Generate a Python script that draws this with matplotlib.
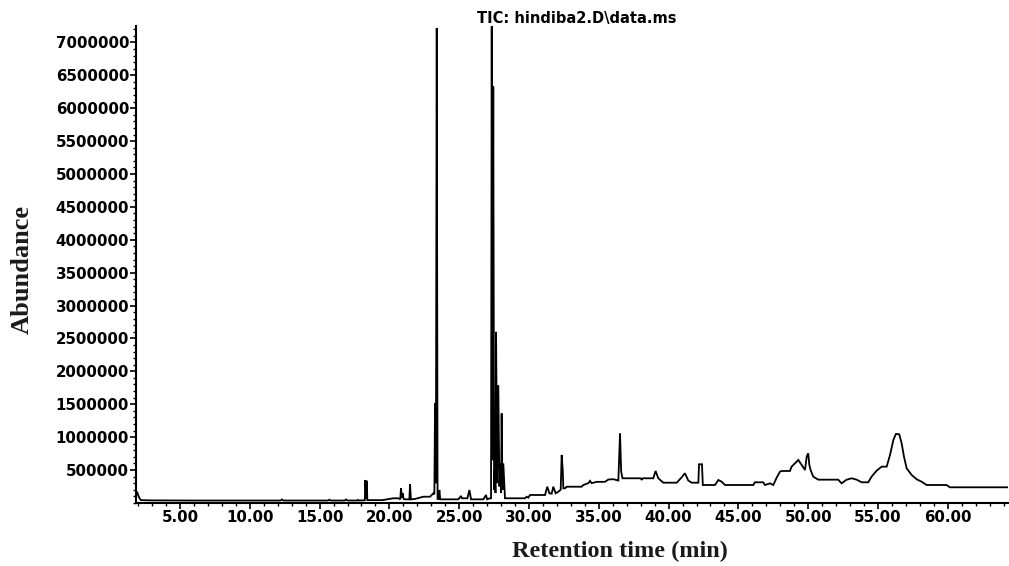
import matplotlib
matplotlib.use("Agg")
import matplotlib.pyplot as plt
from matplotlib.ticker import MultipleLocator, FixedLocator, FuncFormatter
import numpy as np

# retention time (min) / abundance, segment by segment
rt_start = [1.87, 1.93, 2.0, 2.1, 2.2, 3.0, 6.0, 9.0, 12.2, 12.3, 12.4, 15.6, 15.7,
            15.8, 16.8, 16.9, 17.0, 17.7, 17.75, 17.8, 18.24, 18.28, 18.33, 18.38,
            18.42, 19.5, 20.28, 20.64, 20.78, 20.83, 20.9, 20.95, 21.02, 21.12,
            21.43, 21.48, 21.54, 21.84, 22.43, 22.91, 23.03]
ab_start = [150000, 170000, 120000, 70000, 42000, 38000, 36000, 36000, 36000, 52000,
            36000, 36000, 48000, 36000, 36000, 52000, 36000, 36000, 46000, 36000,
            40000, 348000, 70000, 335000, 42000, 42000, 70000, 70000, 55000, 222000,
            80000, 146000, 60000, 54000, 54000, 283000, 54000, 60000, 94000, 94000,
            120000]

rt_peak1 = [23.15, 23.22, 23.27, 23.33, 23.39, 23.45, 23.52, 23.58, 23.64, 24.94,
            25.13, 25.2, 25.59, 25.73, 25.85, 26.73, 26.92, 27.0, 27.2]
ab_peak1 = [146000, 130000, 1515000, 300000, 7220000, 60000, 60000, 196000, 54000,
            54000, 105000, 70000, 70000, 196000, 54000, 54000, 120000, 54000, 70000]

rt_peak2 = [27.28, 27.33, 27.38, 27.44, 27.5, 27.55, 27.6, 27.64, 27.72, 27.8,
            27.88, 27.95, 28.0, 28.04, 28.1, 28.16, 28.28]
ab_peak2 = [70000, 7250000, 650000, 6330000, 200000, 500000, 150000, 2600000, 300000,
            1790000, 250000, 600000, 150000, 1360000, 200000, 600000, 70000]

rt_mid = [29.71, 29.83, 29.95, 30.07, 31.15, 31.31, 31.46, 31.62, 31.74, 31.91,
          32.1, 32.27, 32.34, 32.42, 32.46, 32.58, 32.7, 32.94, 33.77, 33.89, 34.25,
          34.37, 34.49, 34.85, 35.44, 35.68, 36.04, 36.4, 36.52, 36.6, 36.7, 37.0,
          38.0, 38.07, 38.15, 38.9, 39.07, 39.26, 39.62, 40.58, 40.94, 41.17, 41.41,
          41.65, 42.13, 42.18, 42.39, 42.45, 42.73, 43.32, 43.56, 43.8, 44.04, 45.83]
ab_mid = [70000, 94000, 80000, 120000, 120000, 246000, 146000, 140000, 246000,
          146000, 170000, 200000, 729000, 485000, 222000, 222000, 246000, 246000,
          246000, 272000, 300000, 335000, 300000, 320000, 320000, 355000, 360000,
          340000, 1060000, 475000, 374000, 374000, 374000, 350000, 374000, 374000,
          485000, 374000, 307000, 307000, 390000, 450000, 340000, 307000, 307000,
          587000, 587000, 272000, 272000, 272000, 348000, 322000, 272000, 272000]

rt_end = [46.07, 46.18, 46.78, 46.9, 47.26, 47.5, 47.74, 47.98, 48.1, 48.69, 48.81,
          49.05, 49.29, 49.53, 49.77, 49.89, 50.0, 50.08, 50.17, 50.36, 50.72, 52.15,
          52.39, 52.75, 53.11, 53.47, 53.83, 54.3, 54.54, 54.9, 55.26, 55.62, 55.86,
          56.1, 56.28, 56.52, 56.69, 56.86, 57.05, 57.41, 57.77, 58.12, 58.48, 59.91,
          60.15, 64.4]
ab_end = [272000, 313000, 313000, 272000, 297000, 272000, 384000, 475000, 485000,
          485000, 551000, 602000, 653000, 577000, 500000, 703000, 754000, 577000,
          500000, 399000, 353000, 353000, 297000, 353000, 374000, 353000, 313000,
          313000, 399000, 490000, 551000, 551000, 729000, 957000, 1048000, 1043000,
          906000, 703000, 526000, 424000, 359000, 322000, 272000, 272000, 237000,
          237000]

y_ticks = list(range(500000, 7000001, 500000))
x_ticks = [5, 10, 15, 20, 25, 30, 35, 40, 45, 50, 55, 60]

rt = np.concatenate([rt_start, rt_peak1, rt_peak2, rt_mid, rt_end])
ab = np.concatenate([ab_start, ab_peak1, ab_peak2, ab_mid, ab_end])

fig = plt.figure(figsize=(10.09, 5.66), dpi=100)
ax = fig.add_axes([0.1348, 0.1115, 0.8642, 0.8426])

ax.plot(rt, ab, color="black", linewidth=1.3, solid_joinstyle="miter")

ax.set_xlim(1.85, 64.31)
ax.set_ylim(0, 7250000)

ax.spines["top"].set_visible(False)
ax.spines["right"].set_visible(False)
ax.spines["left"].set_linewidth(1.5)
ax.spines["bottom"].set_linewidth(1.5)

ax.xaxis.set_major_locator(FixedLocator(x_ticks))
ax.xaxis.set_minor_locator(MultipleLocator(1))
ax.xaxis.set_major_formatter(FuncFormatter(lambda v, p: "%.2f" % v))
ax.yaxis.set_major_locator(FixedLocator(y_ticks))
ax.yaxis.set_minor_locator(MultipleLocator(100000))
ax.yaxis.set_major_formatter(FuncFormatter(lambda v, p: "%d" % v))

ax.tick_params(which="major", direction="out", length=4, width=1.2, pad=1)
ax.tick_params(which="minor", direction="out", length=2.5, width=1)
for lab in ax.get_xticklabels() + ax.get_yticklabels():
    lab.set_fontfamily("DejaVu Sans")
    lab.set_fontweight("bold")
    lab.set_fontsize(10.8)

ax.set_ylabel("Abundance", fontfamily="Liberation Serif", fontweight="bold",
              fontsize=19, color="#1a1a1a", va="center")
ax.yaxis.set_label_coords(-0.1301, 0.49)
ax.set_xlabel("Retention time (min)", fontfamily="Liberation Serif",
              fontweight="bold", fontsize=17.5, color="#1a1a1a", va="center")
ax.xaxis.set_label_coords(0.555, -0.101)

fig.text(576.5 / 1009, 1 - 18 / 566, r"TIC: hindiba2.D\data.ms", ha="center",
         va="center", fontsize=10.5, fontweight="bold", fontfamily="DejaVu Sans")

fig.savefig("out.png", dpi=100)
